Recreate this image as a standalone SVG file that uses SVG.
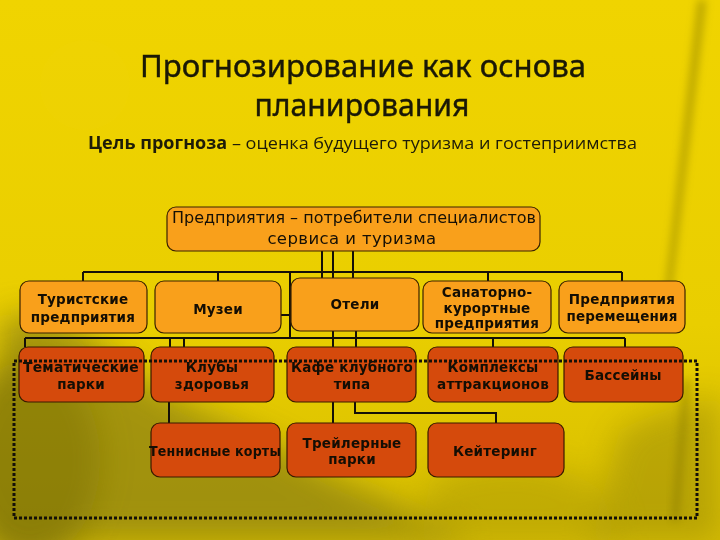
<svg xmlns="http://www.w3.org/2000/svg" width="720" height="540" viewBox="0 0 720 540">
<defs>
<style>
.n1{fill:#f9a01b;stroke:#3a2200;stroke-width:1.2}
.n2{fill:#d54a0c;stroke:#3a1a00;stroke-width:1.2}
.t{font-family:"DejaVu Sans",Verdana,sans-serif;font-size:13.5px;font-weight:bold;fill:#140e04;text-anchor:middle;letter-spacing:0.2px}
.c{fill:none;stroke:#141008;stroke-width:2}
</style>
<filter id="blur" x="-30%" y="-30%" width="160%" height="160%"><feGaussianBlur stdDeviation="16"/></filter>
<filter id="blur2" x="-30%" y="-30%" width="160%" height="160%"><feGaussianBlur stdDeviation="4"/></filter>
<linearGradient id="bg" x1="0" y1="0" x2="0" y2="1">
<stop offset="0" stop-color="#f0d400"/>
<stop offset="0.6" stop-color="#e9ce00"/>
<stop offset="1" stop-color="#d6bd00"/>
</linearGradient>
</defs>
<rect width="720" height="540" fill="url(#bg)"/>
<g opacity="0.6">
<path d="M0 320 C40 300 90 330 130 370 C200 420 260 430 320 470 C380 500 440 520 470 540 L0 540 Z" fill="#7a7212" filter="url(#blur)"/>
<ellipse cx="30" cy="460" rx="70" ry="100" fill="#5a5510" filter="url(#blur)"/>
<path d="M620 430 C660 410 700 400 720 395 L720 540 L590 540 Z" fill="#8a7e10" filter="url(#blur)" opacity="0.7"/>
<path d="M430 480 C500 450 560 460 600 490 L620 540 L420 540 Z" fill="#8a7e10" filter="url(#blur)" opacity="0.5"/>
</g>
<path d="M706 0 L698 0 L662 320 L668 320 Z" fill="#a89600" filter="url(#blur2)" opacity="0.8"/>
<path d="M690 380 L684 380 L672 520 L678 520 Z" fill="#7a6e00" filter="url(#blur2)" opacity="0.5"/>
<circle cx="85" cy="85" r="45" fill="#f4da10" opacity="0.15"/>

<g id="title">
<text x="363" y="77" font-family="'Noto Sans','Open Sans',sans-serif" font-size="31" fill="#1a1806" stroke="#1a1806" stroke-width="0.4" text-anchor="middle" textLength="446" lengthAdjust="spacingAndGlyphs">Прогнозирование как основа</text>
<text x="362" y="116" font-family="'Noto Sans','Open Sans',sans-serif" font-size="31" fill="#1a1806" stroke="#1a1806" stroke-width="0.4" text-anchor="middle" textLength="215" lengthAdjust="spacingAndGlyphs">планирования</text>
<text x="88" y="149" font-family="'Open Sans','Noto Sans',sans-serif" font-size="17" fill="#1e1c08" textLength="549" lengthAdjust="spacingAndGlyphs"><tspan font-weight="bold">Цель прогноза</tspan> – оценка будущего туризма и гостеприимства</text>
</g>

<g id="connectors">
<path class="c" d="M322 251V278M333 251V278M353 251V278"/>
<path class="c" d="M83 272H622M83 272V281M218 272V281M488 272V281M622 272V281"/>
<path class="c" d="M290 272V338M281 315H290"/>
<path class="c" d="M25 338H625M25 338V347M170 338V347M184 338V347M493 338V347M625 338V347"/>
<path class="c" d="M333 331V347M356 331V347"/>
<path class="c" d="M169 402V423M333 402V423M355 402V413H496V423"/>
</g>

<g id="n0">
<rect x="167" y="207" width="373" height="44" rx="9" class="n1"/>
<text x="354" y="223" font-family="'DejaVu Sans',Verdana,sans-serif" font-size="16" fill="#161006" text-anchor="middle" textLength="364" lengthAdjust="spacingAndGlyphs">Предприятия – потребители специалистов</text>
<text x="352" y="244" font-family="'DejaVu Sans',Verdana,sans-serif" font-size="16.5" fill="#161006" text-anchor="middle" letter-spacing="0.4">сервиса и туризма</text>
</g>

<g id="n1"><rect x="20" y="281" width="127" height="52" rx="9" class="n1"/><text class="t" x="83" y="304">Туристские</text><text class="t" x="83" y="322">предприятия</text></g>
<g id="n2"><rect x="155" y="281" width="126" height="52" rx="9" class="n1"/><text class="t" x="218" y="314">Музеи</text></g>
<g id="n3"><rect x="291" y="278" width="128" height="53" rx="9" class="n1"/><text class="t" x="355" y="309">Отели</text></g>
<g id="n4"><rect x="423" y="281" width="128" height="52" rx="9" class="n1"/><text class="t" x="487" y="297">Санаторно-</text><text class="t" x="487" y="313">курортные</text><text class="t" x="487" y="328">предприятия</text></g>
<g id="n5"><rect x="559" y="281" width="126" height="52" rx="9" class="n1"/><text class="t" x="622" y="304">Предприятия</text><text class="t" x="622" y="321">перемещения</text></g>

<g id="n6"><rect x="19" y="347" width="125" height="55" rx="9" class="n2"/><text class="t" x="81" y="372" textLength="116" lengthAdjust="spacingAndGlyphs">Тематические</text><text class="t" x="81" y="389">парки</text></g>
<g id="n7"><rect x="151" y="347" width="123" height="55" rx="9" class="n2"/><text class="t" x="212" y="372">Клубы</text><text class="t" x="212" y="389">здоровья</text></g>
<g id="n8"><rect x="287" y="347" width="129" height="55" rx="9" class="n2"/><text class="t" x="352" y="372" textLength="122" lengthAdjust="spacingAndGlyphs">Кафе клубного</text><text class="t" x="352" y="389">типа</text></g>
<g id="n9"><rect x="428" y="347" width="130" height="55" rx="9" class="n2"/><text class="t" x="493" y="372">Комплексы</text><text class="t" x="493" y="389" textLength="112" lengthAdjust="spacingAndGlyphs">аттракционов</text></g>
<g id="n10"><rect x="564" y="347" width="119" height="55" rx="9" class="n2"/><text class="t" x="623" y="380">Бассейны</text></g>

<g id="n11"><rect x="151" y="423" width="129" height="54" rx="9" class="n2"/><text class="t" x="215" y="456" textLength="132" lengthAdjust="spacingAndGlyphs">Теннисные корты</text></g>
<g id="n12"><rect x="287" y="423" width="129" height="54" rx="9" class="n2"/><text class="t" x="352" y="448">Трейлерные</text><text class="t" x="352" y="464">парки</text></g>
<g id="n13"><rect x="428" y="423" width="136" height="54" rx="9" class="n2"/><text class="t" x="495" y="456">Кейтеринг</text></g>

<g id="frame">
<rect x="14" y="361" width="683" height="157" fill="none" stroke="#141008" stroke-width="3" stroke-dasharray="3 2"/>
</g>
</svg>
